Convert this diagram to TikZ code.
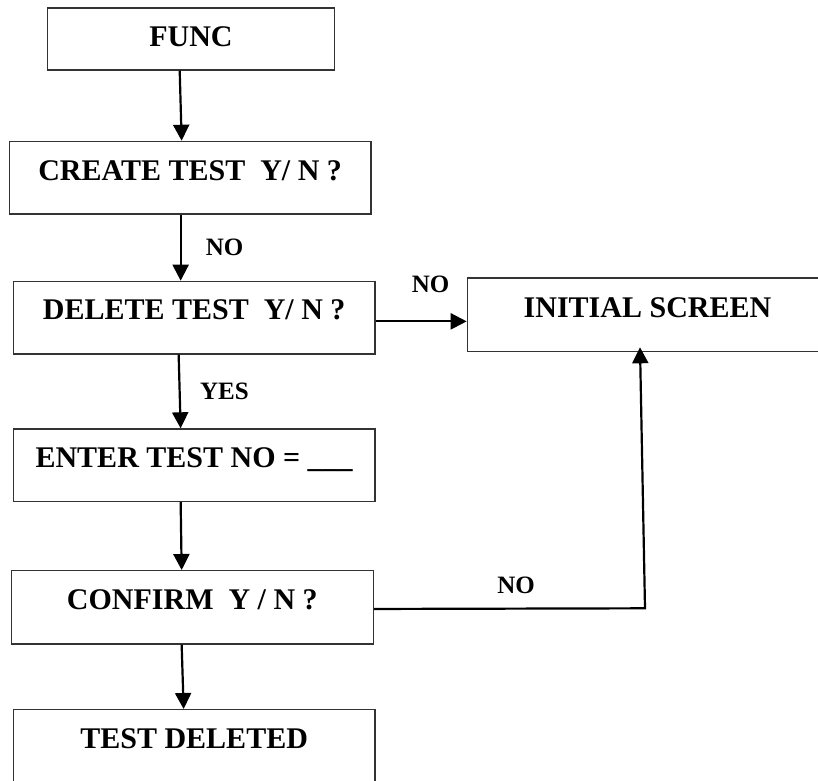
\documentclass[tikz,border=0pt]{standalone}
\usepackage{fontspec}
\setmainfont{Liberation Serif}
\usetikzlibrary{arrows.meta}
\begin{document}
\begin{tikzpicture}[x=1pt,y=-1pt,
  box/.style={draw=black!80, line width=1.3pt, rectangle, inner sep=0pt,
    font=\fontsize{30}{36}\selectfont\bfseries, anchor=north west},
  arr/.style={line width=2.2pt, -{Triangle[length=16pt,width=16pt]}},
  lbl/.style={font=\fontsize{25}{30}\selectfont\bfseries, inner sep=0pt, anchor=base}]
\useasboundingbox (0,0) rectangle (818,780);

\node[box, minimum width=287.3pt, text height=38.7pt, text depth=23.3pt] (func) at (46.7,7.3) {FUNC};
\node[box, minimum width=361.6pt, text height=39.3pt, text depth=33.3pt] (create) at (8.7,140.7) {CREATE TEST\ \ Y/ N ?};
\node[box, minimum width=361.6pt, text height=38.3pt, text depth=34.3pt] (delete) at (12.7,280.7) {DELETE TEST\ \ Y/ N ?};
\node[box, minimum width=361.6pt, text height=38.7pt, text depth=33.7pt] (enter) at (12.7,428.3) {ENTER TEST NO = \_\_\_};
\node[box, minimum width=362pt, text height=39.3pt, text depth=34pt] (confirm) at (10.7,570) {CONFIRM\ \ Y / N ?};
\node[box, minimum width=361.6pt, text height=39pt, text depth=33.6pt] (testdel) at (12.7,709) {TEST DELETED};
\node[box, minimum width=360.3pt, text height=39.4pt, text depth=34pt] (initial) at (466.7,277.3) {INITIAL SCREEN};

\draw[arr] ([xshift=-11.3pt]func.south) -- ([xshift=-8.5pt]create.north);
\draw[arr] ([xshift=-9.5pt]create.south) -- ([xshift=-13.5pt]delete.north);
\draw[arr] ([xshift=-15.5pt]delete.south) -- ([xshift=-13.5pt]enter.north);
\draw[arr] ([xshift=-13.5pt]enter.south) -- ([xshift=-10.7pt]confirm.north);
\draw[arr] ([xshift=-10.7pt]confirm.south) -- ([xshift=-10.5pt]testdel.north);
\draw[arr] ([yshift=-3.7pt]delete.east) -- ([yshift=-6.7pt]initial.west);
\coordinate (bend) at (645,608.3);
\draw[arr] ([yshift=-1.65pt]confirm.east) -- (bend) -- ([xshift=-7.5pt,yshift=4.7pt]initial.south);

\node[lbl] (l1) at (224.5,255) {NO};
\node[lbl] (l2) at (224.5,399) {YES};
\node[lbl] (l3) at (430.5,292) {NO};
\node[lbl] (l4) at (516,593) {NO};
\end{tikzpicture}
\end{document}
